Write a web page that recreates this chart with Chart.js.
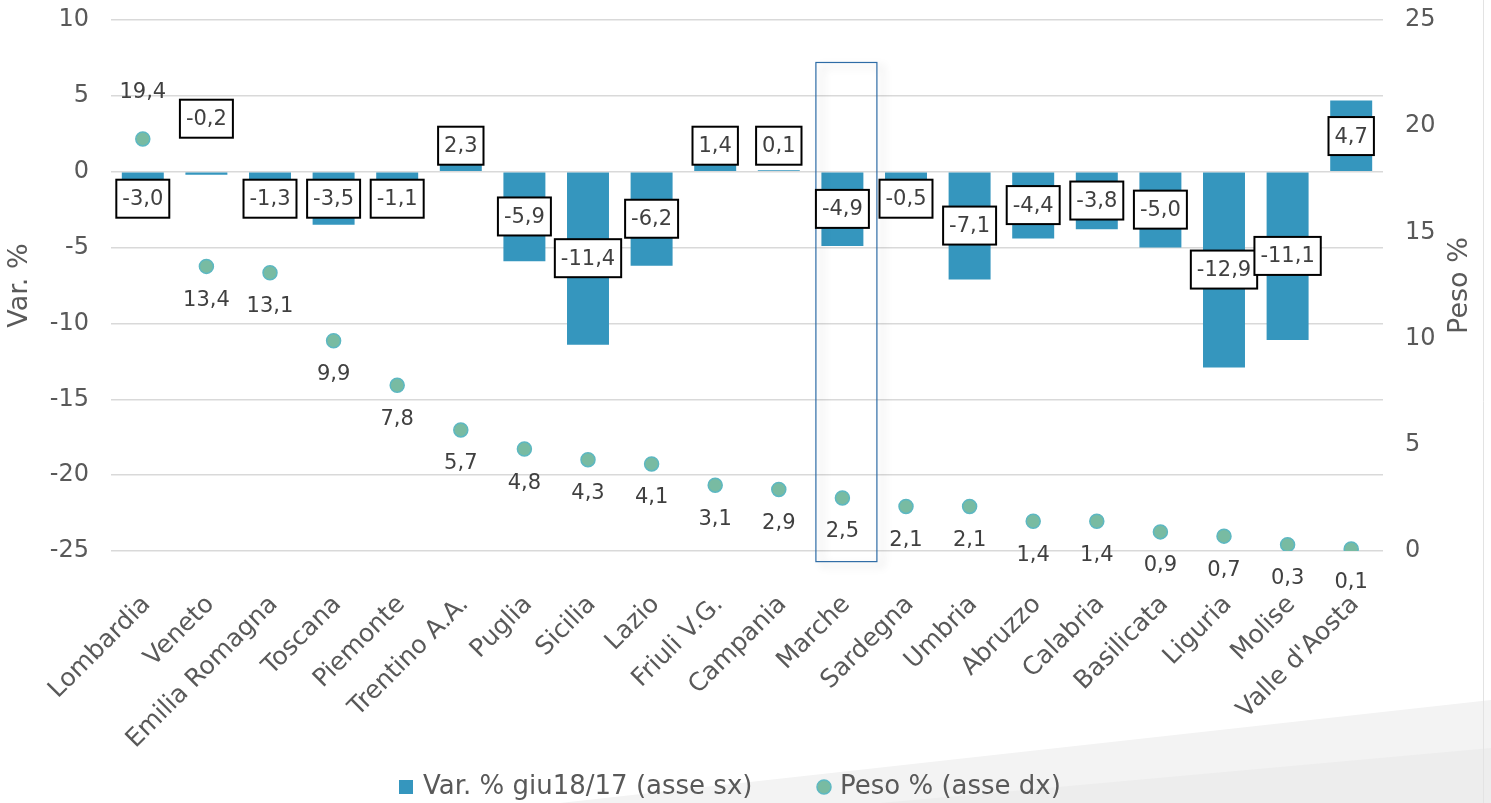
<!DOCTYPE html>
<html>
<head>
<meta charset="utf-8">
<script src="https://cdn.jsdelivr.net/npm/chart.js@4"></script>
<style>
  html, body { margin: 0; padding: 0; background: #fff; }
</style>
</head>
<body>
<canvas id="chart" width="1491" height="803"></canvas>
<script>
const regioni = ["Lombardia", "Veneto", "Emilia Romagna", "Toscana", "Piemonte", "Trentino A.A.", "Puglia", "Sicilia", "Lazio", "Friuli V.G.", "Campania", "Marche", "Sardegna", "Umbria", "Abruzzo", "Calabria", "Basilicata", "Liguria", "Molise", "Valle d'Aosta"];
const varPerc = [-3.0, -0.2, -1.3, -3.5, -1.1, 2.3, -5.9, -11.4, -6.2, 1.4, 0.1, -4.9, -0.5, -7.1, -4.4, -3.8, -5.0, -12.9, -11.1, 4.7];
const pesoPerc = [19.4, 13.4, 13.1, 9.9, 7.8, 5.7, 4.8, 4.3, 4.1, 3.1, 2.9, 2.5, 2.1, 2.1, 1.4, 1.4, 0.9, 0.7, 0.3, 0.1];
const evidenziata = "Marche";

const FONT = "'DejaVu Sans', sans-serif";
const GREY = "#595959";
const BLUE = "#3596BE";
const TEAL = "#78BBA2";
const TEAL_EDGE = "#5DB8C2";

const fmt = (v) => v.toFixed(1).replace(".", ",");

// gray swoosh in the lower right corner + right edge line
const background = {
  id: "background",
  beforeDraw(chart) {
    const ctx = chart.ctx;
    const w = chart.width, h = chart.height;
    ctx.save();
    ctx.fillStyle = "#F3F3F3";
    ctx.beginPath();
    ctx.moveTo(560, h);
    ctx.lineTo(w, 700);
    ctx.lineTo(w, h);
    ctx.closePath();
    ctx.fill();
    ctx.fillStyle = "#EDEDED";
    ctx.beginPath();
    ctx.moveTo(880, h);
    ctx.lineTo(w, 748);
    ctx.lineTo(w, h);
    ctx.closePath();
    ctx.fill();
    ctx.strokeStyle = "#E3E3E3";
    ctx.lineWidth = 1;
    ctx.beginPath();
    ctx.moveTo(w - 7.5, 0);
    ctx.lineTo(w - 7.5, h);
    ctx.stroke();
    ctx.restore();
  }
};

const labels = {
  id: "labels",
  afterDatasetsDraw(chart) {
    const ctx = chart.ctx;
    const x = chart.scales.x;
    const y = chart.scales.y;
    const zero = y.getPixelForValue(0);

    // highlight box around Marche
    const cx = x.getPixelForValue(regioni.indexOf(evidenziata)) + 4;
    const top = y.getPixelForValue(7.2);
    const bottom = y.getPixelForValue(-25.7);
    ctx.save();
    ctx.shadowColor = "rgba(0,0,0,0.22)";
    ctx.shadowBlur = 8;
    ctx.shadowOffsetX = 6;
    ctx.shadowOffsetY = 4;
    ctx.strokeStyle = "#2E6CA6";
    ctx.lineWidth = 1.2;
    ctx.strokeRect(cx - 30.5, top, 61, bottom - top);
    ctx.restore();

    ctx.save();
    ctx.font = "21px " + FONT;
    ctx.textAlign = "center";
    ctx.textBaseline = "middle";

    // boxed labels for the bars
    chart.getDatasetMeta(0).data.forEach((bar, i) => {
      const v = varPerc[i];
      const txt = fmt(v);
      let ly = (bar.y + zero) / 2;
      if (v < 0) ly = Math.max(ly, zero + 27);
      else ly = Math.min(ly, zero - 26);
      if (v < 0 && v > -0.3) ly = zero - 53;
      const bw = ctx.measureText(txt).width + 12;
      const bh = 38;
      ctx.fillStyle = "#fff";
      ctx.fillRect(bar.x - bw / 2, ly - bh / 2, bw, bh);
      ctx.lineWidth = 2;
      ctx.strokeStyle = "#000";
      ctx.strokeRect(bar.x - bw / 2, ly - bh / 2, bw, bh);
      ctx.fillStyle = "#404040";
      ctx.fillText(txt, bar.x, ly + 1);
    });

    // plain labels for the points
    chart.getDatasetMeta(1).data.forEach((p, i) => {
      const dy = i === 0 ? -46 : 34;
      ctx.fillStyle = "#404040";
      ctx.fillText(fmt(pesoPerc[i]), p.x, p.y + dy);
    });

    // right axis title reads bottom to top
    const r = chart.scales.y1;
    ctx.translate(1460, (r.top + r.bottom) / 2);
    ctx.rotate(-Math.PI / 2);
    ctx.font = "27px " + FONT;
    ctx.fillStyle = GREY;
    ctx.fillText("Peso %", 0, 0);
    ctx.restore();
  },
  afterDraw(chart) {
    // legend at the bottom
    const ctx = chart.ctx;
    const ds = chart.data.datasets;
    const ly = 787;
    ctx.save();
    ctx.font = "26px " + FONT;
    ctx.textBaseline = "middle";
    ctx.textAlign = "left";
    ctx.fillStyle = BLUE;
    ctx.fillRect(399, ly - 7, 14, 14);
    ctx.fillStyle = GREY;
    ctx.fillText(ds[0].label, 423, ly);
    ctx.beginPath();
    ctx.arc(824, ly, 7, 0, Math.PI * 2);
    ctx.fillStyle = TEAL;
    ctx.fill();
    ctx.strokeStyle = TEAL_EDGE;
    ctx.lineWidth = 1.5;
    ctx.stroke();
    ctx.fillStyle = GREY;
    ctx.fillText(ds[1].label, 840, ly);
    ctx.restore();
  }
};

const noPad = (s) => { s.paddingTop = 0; s.paddingBottom = 0; };

new Chart(document.getElementById("chart"), {
  type: "bar",
  data: {
    labels: regioni,
    datasets: [
      {
        label: "Var. % giu18/17 (asse sx)",
        data: varPerc,
        backgroundColor: BLUE,
        borderWidth: 0,
        barPercentage: 0.66,
        categoryPercentage: 1,
        yAxisID: "y"
      },
      {
        type: "line",
        label: "Peso % (asse dx)",
        data: pesoPerc,
        showLine: false,
        backgroundColor: TEAL,
        borderColor: TEAL_EDGE,
        pointBackgroundColor: TEAL,
        pointBorderColor: TEAL_EDGE,
        pointBorderWidth: 1.5,
        pointRadius: 7,
        yAxisID: "y1"
      }
    ]
  },
  options: {
    responsive: false,
    animation: false,
    layout: { padding: { top: 20, left: 0, right: 0, bottom: 42 } },
    plugins: {
      tooltip: { enabled: false },
      legend: { display: false }
    },
    scales: {
      x: {
        grid: { display: false },
        border: { display: false },
        ticks: {
          autoSkip: false,
          minRotation: 45,
          maxRotation: 45,
          padding: 31,
          labelOffset: 4,
          color: GREY,
          font: { family: FONT, size: 25 }
        },
        afterFit: (s) => { s.height = 210; }
      },
      y: {
        position: "left",
        min: -25,
        max: 10,
        ticks: { stepSize: 5, padding: 22, color: GREY, font: { family: FONT, size: 24 } },
        grid: { color: "#D9D9D9", lineWidth: 1.5, drawTicks: false },
        border: { display: false },
        title: { display: true, text: "Var. %", color: GREY, font: { family: FONT, size: 27 } },
        afterFit: (s) => { s.width = 111; noPad(s); }
      },
      y1: {
        position: "right",
        min: 0,
        max: 25,
        ticks: { stepSize: 5, padding: 22, color: GREY, font: { family: FONT, size: 24 } },
        grid: { display: false, drawTicks: false },
        border: { display: false },
        afterFit: (s) => { s.width = 108; noPad(s); }
      }
    }
  },
  plugins: [background, labels]
});
</script>
</body>
</html>
